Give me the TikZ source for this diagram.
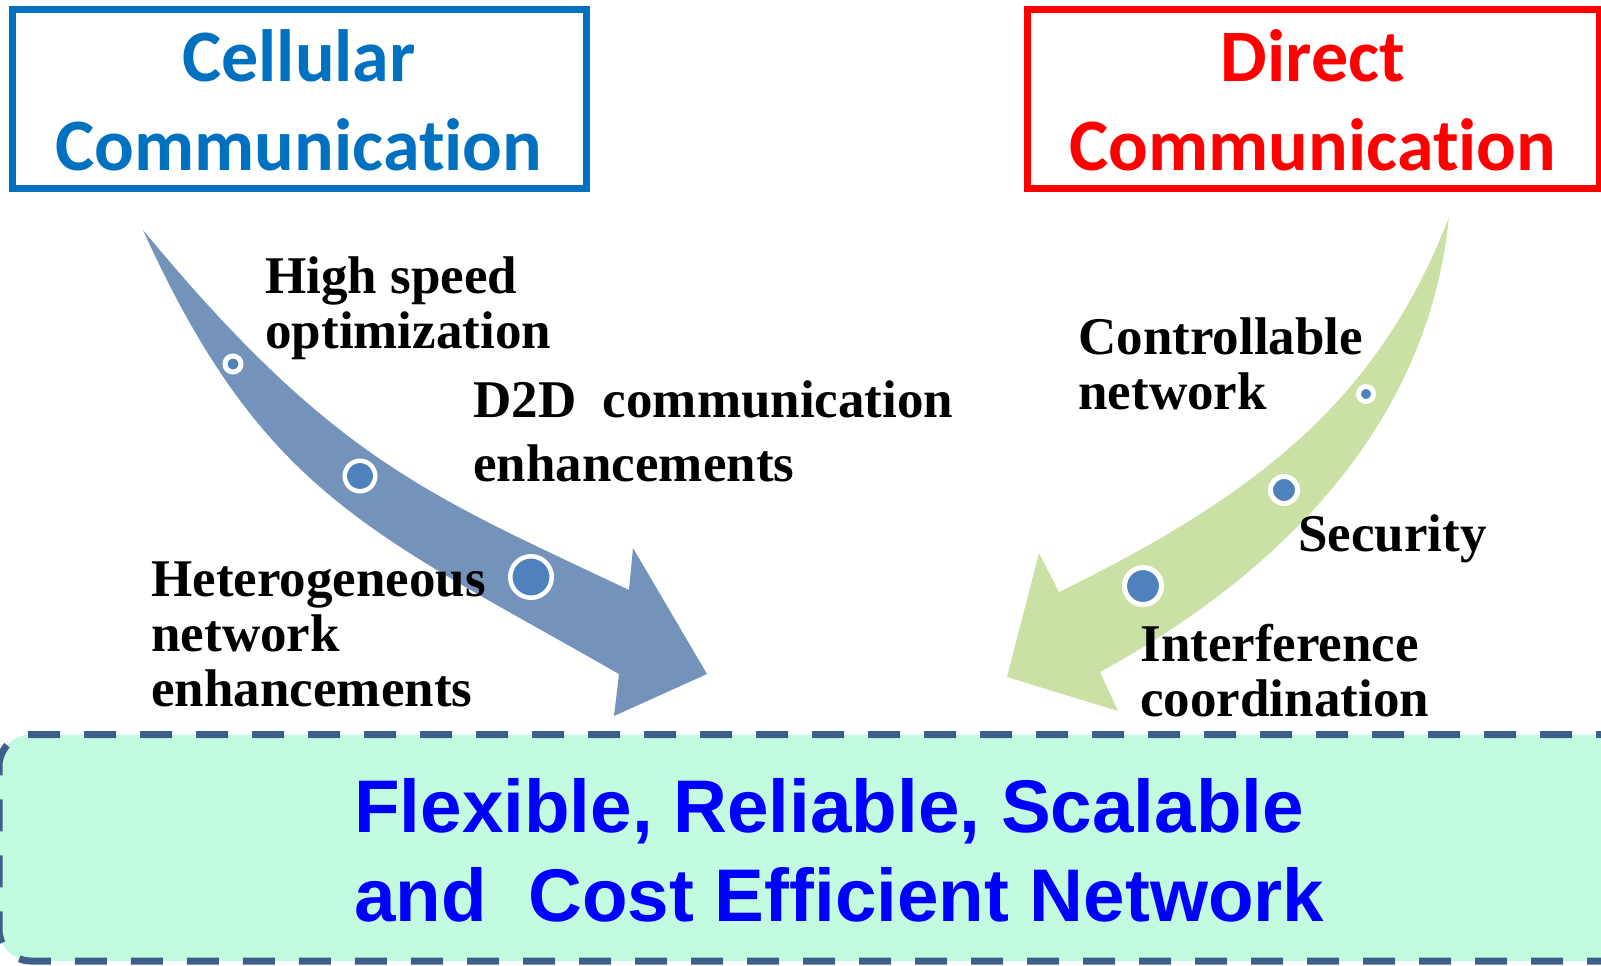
\documentclass[tikz,border=0pt]{standalone}
\usepackage{fontspec}
\newfontfamily\calib{Carlito}[Ligatures=NoCommon]
\newfontfamily\tnr{Liberation Serif}
\newfontfamily\arl{Liberation Sans}
\definecolor{cellblue}{RGB}{0,112,192}
\definecolor{directred}{RGB}{255,0,0}
\definecolor{arrowblue}{RGB}{115,147,187}
\definecolor{arrowgreen}{RGB}{203,224,165}
\definecolor{dotblue}{RGB}{79,129,189}
\definecolor{mint}{RGB}{194,251,224}
\definecolor{dashblue}{RGB}{62,94,140}
\definecolor{goalblue}{RGB}{0,0,255}
\begin{document}
\begin{tikzpicture}[x=0.5pt,y=-0.5pt,
  frame/.style={draw, line width=3.5pt, inner sep=0, minimum height=89.5pt},
  titletext/.style={font=\calib\bfseries\fontsize{37}{44.25}\selectfont, align=center, inner sep=0, anchor=base},
  item/.style={font=\tnr\bfseries\fontsize{26.5}{27.5}\selectfont, align=left, inner sep=0, anchor=base west},
  dot/.style={circle, fill=dotblue, draw=white, inner sep=0},
  goalbox/.style={draw=dashblue, fill=mint, line width=3.5pt, dash pattern=on 16pt off 12pt, rounded corners=16pt, inner sep=0},
  goaltext/.style={font=\arl\bfseries\fontsize{37.3}{44.5}\selectfont, text=goalblue, align=left, inner sep=0, anchor=base west}]
\useasboundingbox (0,0) rectangle (1601,965);
\clip (0,0) rectangle (1601,965);

% target box at the bottom
\node[goalbox, minimum width=830.5pt, minimum height=113.25pt] (goalframe) at (829.5,847.75) {};

% the two headline boxes (text anchored at the baseline of its last line)
\node[frame, draw=cellblue, minimum width=287pt] (cellframe) at (299,98.5) {};
\node[frame, draw=directred, minimum width=286pt] (directframe) at (1313,98.5) {};
\node[titletext, text=cellblue] (celltitle) at (299,170) {Cellular\\Communication};
\node[titletext, text=directred] (directtitle) at (1313,170) {Direct\\Communication};

% curved arrow from the cellular side
\fill[arrowblue] (143,230) .. controls (333,460) and (429,495) .. (629,590)
  -- (633,548) -- (707,674) -- (614,716) -- (619,674)
  .. controls (369,531) and (263,494) .. (143,230) -- cycle;

% curved arrow from the direct side
\fill[arrowgreen] (1449,217) .. controls (1379,399) and (1259,494) .. (1059,592)
  -- (1039,553) -- (1007,677) -- (1118,711) -- (1100,672)
  .. controls (1250,590) and (1426,447) .. (1449,217) -- cycle;

% milestones on the arrows
\node[dot, minimum size=8pt, line width=2.5pt] (b1) at (233,364) {};
\node[dot, minimum size=15.25pt, line width=2.25pt] (b2) at (360,476) {};
\node[dot, minimum size=20.75pt, line width=2.25pt] (b3) at (531,577) {};
\node[dot, minimum size=7.5pt, line width=2.5pt] (g1) at (1366,394) {};
\node[dot, minimum size=13.5pt, line width=2.5pt] (g2) at (1284,490) {};
\node[dot, minimum size=18.5pt, line width=2.5pt] (g3) at (1143,586) {};

% labels
\node[item] (hs) at (265,348) {High speed\\optimization};
\node[item, font=\tnr\bfseries\fontsize{26.5}{32}\selectfont] (d2d) at (473,481) {D2D\ \ communication\\enhancements};
\node[item] (het) at (151,706) {Heterogeneous\\network\\enhancements};
\node[item] (ctl) at (1078,409) {Controllable\\network};
\node[item] (sec) at (1298,551) {Security};
\node[item] (intf) at (1140,716) {Interference\\coordination};

\node[goaltext] (goal) at (354,921) {Flexible, Reliable, Scalable\\and\ \ Cost Efficient Network};
\end{tikzpicture}
\end{document}
